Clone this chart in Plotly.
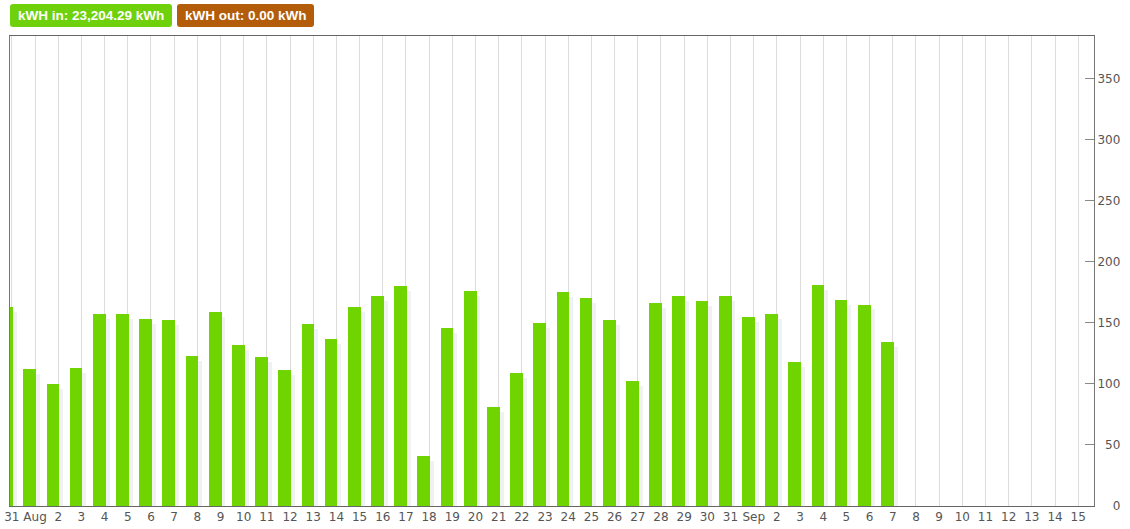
import pandas as pd
import plotly.graph_objects as go

# ---- data ----
bar_dates = list(pd.date_range("2014-07-31", "2014-09-07", freq="D"))
kwh_in = [163, 112, 100, 113, 157, 157, 153, 152, 123, 159, 132, 122, 111, 149, 137, 163, 172,
          180, 41, 146, 176, 81, 109, 150, 175, 170, 152, 102, 166, 172, 168, 172,
          155, 157, 118, 181, 169, 165, 134]

tick_dates = list(pd.date_range("2014-07-31", "2014-09-15", freq="D"))
tick_labels = ["31", "Aug", "2", "3", "4", "5", "6", "7", "8", "9", "10", "11", "12", "13", "14",
               "15", "16", "17", "18", "19", "20", "21", "22", "23", "24", "25", "26", "27", "28",
               "29", "30", "31", "Sep", "2", "3", "4", "5", "6", "7", "8", "9", "10", "11", "12",
               "13", "14", "15"]

y_tick_vals = [0, 50, 100, 150, 200, 250, 300, 350]
y_tick_labels = ["\u2007\u20070", "\u200750", "100", "150", "200", "250", "300", "350"]

total_in_label = "kWH in: 23,204.29 kWh"
total_out_label = "kWH out: 0.00 kWh"

# ---- style ----
DAY = 86400000
bar_w = 0.55 * DAY
bar_off = -0.505 * DAY
shadow_off = bar_off + 0.17 * DAY
shadow_drop = 4

ML, MR, MT, MB = 10, 36, 36, 23
W, H = 1130, 529
PW, PH = W - ML - MR, H - MT - MB


def px_x(p):
    return (p - ML) / PW


def px_y(p):
    return (H - MB - p) / PH


def rounded_box(x0, y0, x1, y1, r=3):
    pts = [
        f"M {px_x(x0 + r)} {px_y(y0)}",
        f"L {px_x(x1 - r)} {px_y(y0)}",
        f"Q {px_x(x1)} {px_y(y0)} {px_x(x1)} {px_y(y0 + r)}",
        f"L {px_x(x1)} {px_y(y1 - r)}",
        f"Q {px_x(x1)} {px_y(y1)} {px_x(x1 - r)} {px_y(y1)}",
        f"L {px_x(x0 + r)} {px_y(y1)}",
        f"Q {px_x(x0)} {px_y(y1)} {px_x(x0)} {px_y(y1 - r)}",
        f"L {px_x(x0)} {px_y(y0 + r)}",
        f"Q {px_x(x0)} {px_y(y0)} {px_x(x0 + r)} {px_y(y0)}",
        "Z",
    ]
    return " ".join(pts)


fig = go.Figure()
fig.add_trace(go.Bar(
    x=bar_dates, y=[max(v - shadow_drop, 0) for v in kwh_in],
    width=bar_w, offset=shadow_off,
    marker=dict(color="rgba(0,0,0,0.055)", line=dict(width=0)),
    hoverinfo="skip", showlegend=False,
))
fig.add_trace(go.Bar(
    x=bar_dates, y=kwh_in,
    width=bar_w, offset=bar_off,
    marker=dict(color="#70d400", line=dict(width=0)),
    showlegend=False,
))

x0 = pd.Timestamp("2014-07-31") - pd.Timedelta(hours=0.08 * 24)
x1 = pd.Timestamp("2014-09-15") + pd.Timedelta(hours=0.68 * 24)

box_font = dict(family="Liberation Sans", size=13.5, color="white")

fig.update_layout(
    width=W, height=H,
    margin=dict(l=ML, r=MR, t=MT, b=MB),
    paper_bgcolor="white", plot_bgcolor="white",
    barmode="overlay", bargap=0,
    font=dict(family="DejaVu Sans", size=12, color="#555"),
    xaxis=dict(
        type="date", range=[x0, x1], automargin=False,
        tickvals=tick_dates, ticktext=tick_labels,
        showgrid=True, gridcolor="#dcdcdc", gridwidth=1,
        showline=True, linecolor="#666", linewidth=1, mirror=True,
        ticks="", zeroline=False,
        tickfont=dict(family="DejaVu Sans", size=12, color="#555"),
    ),
    yaxis=dict(
        side="right", range=[0, 385], automargin=False,
        tickvals=y_tick_vals, ticktext=y_tick_labels,
        showgrid=False, zeroline=False,
        showline=True, linecolor="#777", linewidth=1, mirror=True,
        ticks="inside", ticklen=9, tickcolor="#888", tickwidth=1,
        tickfont=dict(family="DejaVu Sans", size=12, color="#555"),
    ),
    shapes=[
        dict(type="path", xref="paper", yref="paper", path=rounded_box(10, 4, 172, 27),
             fillcolor="#6ed10b", line=dict(width=0), layer="above"),
        dict(type="path", xref="paper", yref="paper", path=rounded_box(177, 4, 314, 27),
             fillcolor="#b35c0a", line=dict(width=0), layer="above"),
    ],
    annotations=[
        dict(text="<b>" + total_in_label + "</b>", xref="paper", yref="paper",
             x=px_x(91), y=px_y(15.5), xanchor="center", yanchor="middle",
             showarrow=False, font=box_font),
        dict(text="<b>" + total_out_label + "</b>", xref="paper", yref="paper",
             x=px_x(245.5), y=px_y(15.5), xanchor="center", yanchor="middle",
             showarrow=False, font=box_font),
    ],
)

fig.write_html("out.html", config={"displayModeBar": False},
               post_script="document.body.style.margin='0';document.body.style.overflow='hidden';")
